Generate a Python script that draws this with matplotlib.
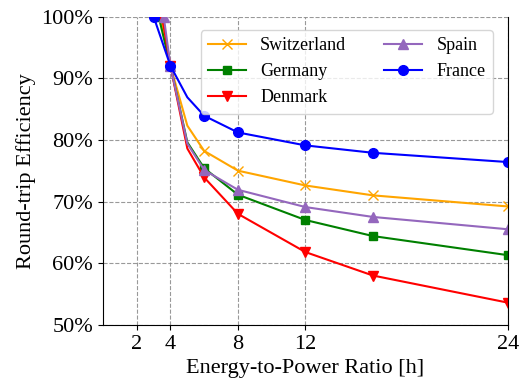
import matplotlib.pyplot as plt
from matplotlib.ticker import PercentFormatter

plt.rcParams['font.family'] = ['Liberation Serif', 'DejaVu Serif']

# E/P ratio [h] and round-trip efficiency [%] per country
x_ch = [3.4, 4, 5, 6, 8, 12, 16, 24]
y_ch = [100, 92, 82.3, 78.2, 75.0, 72.6, 71.0, 69.2]
x_de = [3.3, 4, 5, 6, 8, 12, 16, 24]
y_de = [100, 92, 79.6, 75.4, 71.1, 67.0, 64.4, 61.3]
x_dk = [3.5, 4, 5, 6, 8, 12, 16, 24]
y_dk = [100, 92, 78.6, 73.9, 68.0, 61.8, 58.0, 53.6]
x_es = [3.6, 4, 5, 6, 8, 12, 16, 24]
y_es = [100, 92, 79.4, 75.1, 71.9, 69.1, 67.5, 65.5]
x_fr = [3.0, 4, 5, 6, 8, 12, 16, 24]
y_fr = [100, 92, 86.9, 83.9, 81.2, 79.1, 77.9, 76.4]

marked = [0, 1, 3, 4, 5, 6, 7]

fig, ax = plt.subplots(figsize=(5.28, 3.84), dpi=100)
fig.subplots_adjust(left=0.195, right=0.962, bottom=0.154, top=0.957)

ax.plot(x_ch, y_ch, color='orange', marker='x', ms=7, lw=1.5, markevery=marked, label='Switzerland')
ax.plot(x_de, y_de, color='green', marker='s', ms=6, lw=1.5, markevery=marked, label='Germany')
ax.plot(x_dk, y_dk, color='red', marker='v', ms=7, lw=1.5, markevery=marked, label='Denmark')
ax.plot(x_es, y_es, color='tab:purple', marker='^', ms=7, lw=1.5, markevery=marked, label='Spain')
ax.plot(x_fr, y_fr, color='blue', marker='o', ms=7, lw=1.5, markevery=marked, label='France')

ax.set_xlim(0, 24)
ax.set_ylim(50, 100)
ax.set_xticks([2, 4, 8, 12, 24])
ax.set_yticks([50, 60, 70, 80, 90, 100])
ax.yaxis.set_major_formatter(PercentFormatter(decimals=0))
ax.tick_params(labelsize=16)
ax.grid(True, linestyle='--', color='gray', alpha=0.8, lw=0.8)
ax.spines['top'].set_visible(False)

ax.set_xlabel('Energy-to-Power Ratio [h]', fontsize=16)
ax.set_ylabel('Round-trip Efficiency', fontsize=16)
ax.legend(ncol=2, fontsize=13, loc='upper right', bbox_to_anchor=(0.985, 0.985),
          handlelength=2.1, columnspacing=2.1, handletextpad=0.8, labelspacing=0.5)

plt.savefig('out.png')
